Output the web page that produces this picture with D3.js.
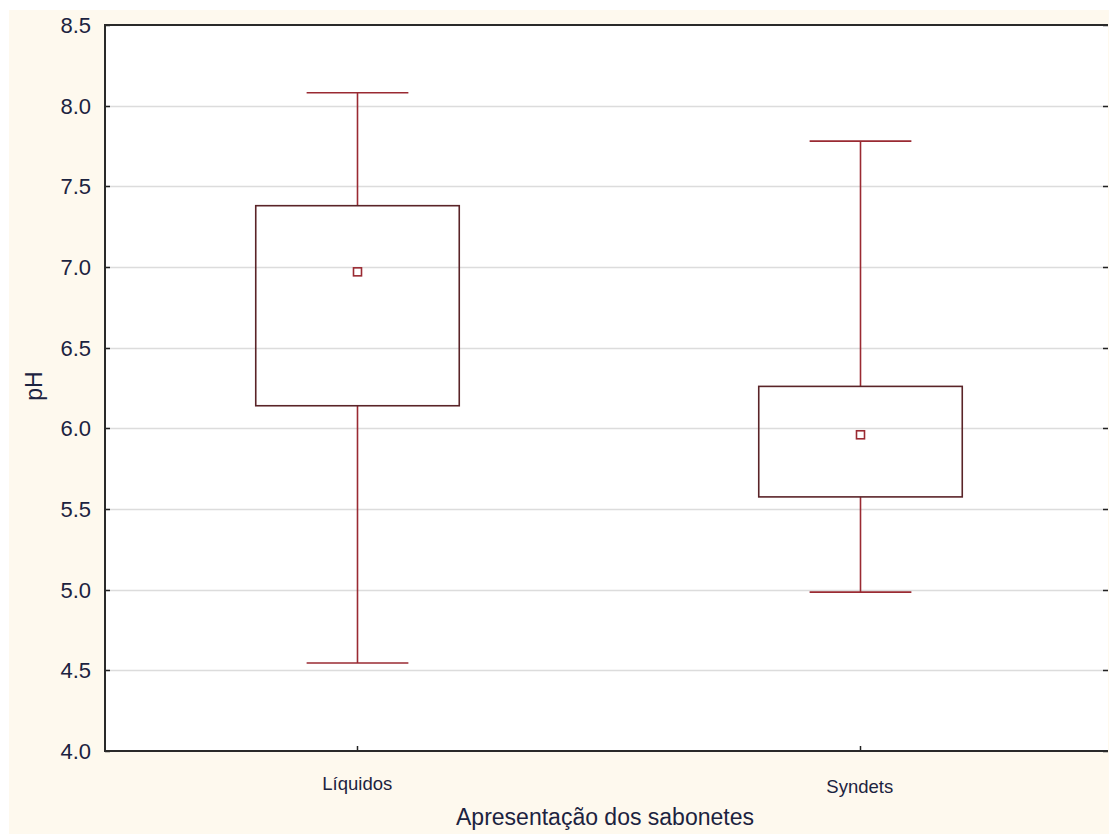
<!DOCTYPE html>
<html><head><meta charset="utf-8">
<script src="https://cdn.jsdelivr.net/npm/d3@7"></script>
<style>html,body{margin:0;padding:0;background:#fff;}svg{display:block;}</style>
</head><body>
<script>
const categories = ["Líquidos", "Syndets"];
const means      = [6.97, 5.96];
const boxLow     = [6.14, 5.575];
const boxHigh    = [7.38, 6.26];
const whiskLow   = [4.545, 4.985];
const whiskHigh  = [8.08, 7.78];
const yTicks     = [4.0, 4.5, 5.0, 5.5, 6.0, 6.5, 7.0, 7.5, 8.0, 8.5];

const W = 1109, H = 834;
const M = {left: 105, top: 25, right: 1108, bottom: 751};
const FONT = "Arial, 'Liberation Sans', sans-serif";
const svg = d3.select("body").append("svg").attr("width", W).attr("height", H);

svg.append("rect").attr("x", 9).attr("y", 10).attr("width", W - 9).attr("height", H - 10).attr("fill", "#fef9ee");
svg.append("rect").attr("x", M.left).attr("y", M.top).attr("width", M.right - M.left).attr("height", M.bottom - M.top).attr("fill", "#ffffff");

const y = d3.scaleLinear().domain([4.0, 8.5]).range([M.bottom, M.top]);
const x = d3.scaleBand().domain(categories).range([M.left + 1, M.right + 3]);
const boxW = x.bandwidth() * 0.405;
const capW = boxW / 2;

// gridlines
svg.append("g").selectAll("line").data(yTicks.slice(1, -1)).join("line")
  .attr("x1", M.left).attr("x2", M.right)
  .attr("y1", d => Math.round(y(d)) + 0.5).attr("y2", d => Math.round(y(d)) + 0.5)
  .attr("stroke", "#dcdcdc").attr("stroke-width", 1.5);

// y tick labels
svg.append("g").selectAll("text").data(yTicks).join("text")
  .attr("x", 91).attr("y", d => y(d)).attr("dy", "0.36em")
  .attr("text-anchor", "end").attr("font-family", FONT)
  .attr("font-size", 22).attr("fill", "#1c2340")
  .text(d => d.toFixed(1));

// y ticks (left inside and right inside)
svg.append("g").selectAll("line").data(yTicks).join("line")
  .attr("x1", M.left).attr("x2", M.left + 5)
  .attr("y1", d => Math.round(y(d)) + 0.5).attr("y2", d => Math.round(y(d)) + 0.5)
  .attr("stroke", "#222").attr("stroke-width", 1.5);
svg.append("g").selectAll("line").data(yTicks).join("line")
  .attr("x1", M.right - 5).attr("x2", M.right)
  .attr("y1", d => Math.round(y(d)) + 0.5).attr("y2", d => Math.round(y(d)) + 0.5)
  .attr("stroke", "#222").attr("stroke-width", 1.5);

// x ticks
svg.append("g").selectAll("line").data(categories).join("line")
  .attr("x1", d => Math.round(x(d) + x.bandwidth() / 2) + 0.5).attr("x2", d => Math.round(x(d) + x.bandwidth() / 2) + 0.5)
  .attr("y1", M.bottom).attr("y2", M.bottom - 5)
  .attr("stroke", "#222").attr("stroke-width", 1.5);

// axis frame (top, left, bottom)
svg.append("path")
  .attr("d", `M${M.right},${M.top}H${M.left}V${M.bottom}H${M.right}`)
  .attr("fill", "none").attr("stroke", "#2a2a2a").attr("stroke-width", 2);

// boxes
const g = svg.append("g");
categories.forEach((c, i) => {
  const cx = Math.round(x(c) + x.bandwidth() / 2) + 0.5;
  g.append("line").attr("x1", cx).attr("x2", cx).attr("y1", y(whiskHigh[i])).attr("y2", y(boxHigh[i]))
    .attr("stroke", "#9a2a32").attr("stroke-width", 1.6);
  g.append("line").attr("x1", cx).attr("x2", cx).attr("y1", y(boxLow[i])).attr("y2", y(whiskLow[i]))
    .attr("stroke", "#9a2a32").attr("stroke-width", 1.6);
  g.append("line").attr("x1", cx - capW / 2).attr("x2", cx + capW / 2).attr("y1", y(whiskHigh[i])).attr("y2", y(whiskHigh[i]))
    .attr("stroke", "#9a2a32").attr("stroke-width", 1.6);
  g.append("line").attr("x1", cx - capW / 2).attr("x2", cx + capW / 2).attr("y1", y(whiskLow[i])).attr("y2", y(whiskLow[i]))
    .attr("stroke", "#9a2a32").attr("stroke-width", 1.6);
  g.append("rect").attr("x", cx - boxW / 2).attr("y", y(boxHigh[i]))
    .attr("width", boxW).attr("height", y(boxLow[i]) - y(boxHigh[i]))
    .attr("fill", "none").attr("stroke", "#5a2428").attr("stroke-width", 1.6);
  g.append("rect").attr("x", cx - 4).attr("y", y(means[i]) - 4).attr("width", 8).attr("height", 8)
    .attr("fill", "#fff").attr("stroke", "#9a2a32").attr("stroke-width", 1.6);
});

// x labels
svg.append("g").selectAll("text").data(categories).join("text")
  .attr("x", d => x(d) + x.bandwidth() / 2).attr("y", (d, i) => i === 0 ? 790 : 793)
  .attr("text-anchor", "middle").attr("font-family", FONT)
  .attr("font-size", 18.5).attr("fill", "#1c2340").text(d => d);

svg.append("text").attr("x", 605).attr("y", 825).attr("text-anchor", "middle")
  .attr("font-family", FONT).attr("font-size", 23).attr("fill", "#1c2340")
  .text("Apresentação dos sabonetes");

svg.append("text").attr("transform", "translate(42,386) rotate(-90)").attr("text-anchor", "middle")
  .attr("font-family", FONT).attr("font-size", 23).attr("fill", "#1c2340")
  .text("pH");
</script>
</body></html>
